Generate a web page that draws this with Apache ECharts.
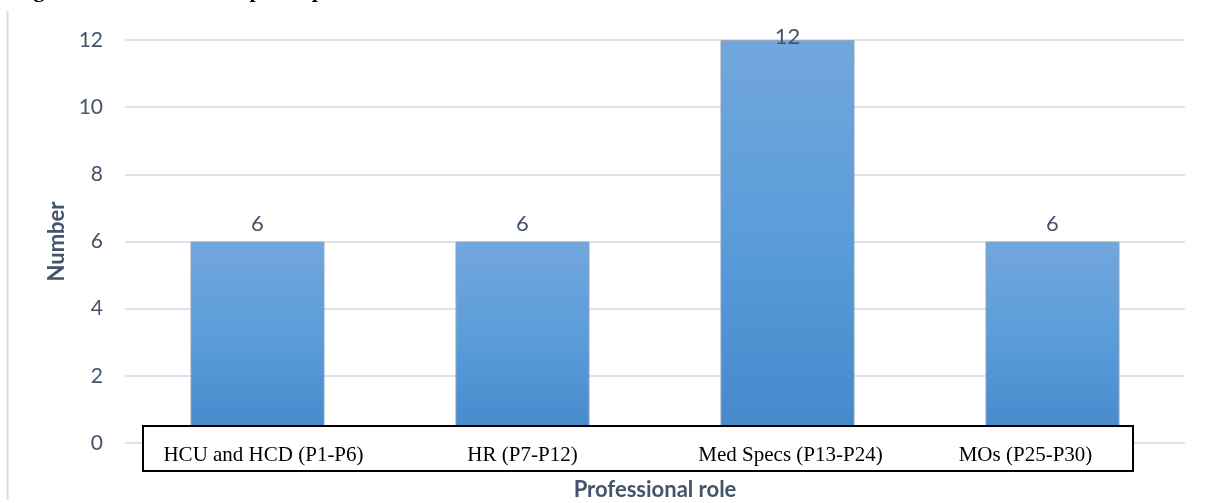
<!DOCTYPE html>
<html>
<head>
<meta charset="utf-8">
<title>Professional role</title>
<script src="https://cdn.jsdelivr.net/npm/echarts@6/dist/echarts.min.js"></script>
<style>
  html, body { margin: 0; padding: 0; background: #ffffff; }
  #chart { width: 1211px; height: 503px; }
</style>
</head>
<body>
<div id="chart"></div>
<script>
// Participants per professional role
const roles = ['HCU and HCD (P1-P6)', 'HR (P7-P12)', 'Med Specs (P13-P24)', 'MOs (P25-P30)'];
const counts = [6, 6, 12, 6];
const yTicks = { min: 0, max: 12, step: 2 };

// horizontal nudge for each category label inside the label box (px)
const labelShift = [6, 0, 3, -27];

const slate = '#44546A';
const chart = echarts.init(document.getElementById('chart'), null, { renderer: 'canvas' });

const categoryData = roles.map((name, i) => {
  const s = labelShift[i];
  return {
    value: name,
    textStyle: { padding: s >= 0 ? [0, 0, 0, 2 * s] : [0, -2 * s, 0, 0] }
  };
});

const barData = counts.map(v => ({
  value: v,
  // the tallest label is held inside the plot area
  label: v === yTicks.max ? { distance: -8 } : undefined
}));

chart.setOption({
  animation: false,
  backgroundColor: '#ffffff',
  grid: { left: 125, right: 26, top: 40, bottom: 60, containLabel: false, outerBoundsMode: 'none' },
  xAxis: {
    type: 'category',
    data: categoryData,
    z: 10,
    axisLine: { show: false },
    axisTick: { show: false },
    axisLabel: {
      margin: 0,
      fontFamily: '"Liberation Serif", "Times New Roman", serif',
      fontSize: 21,
      color: '#000000',
      lineHeight: 25
    },
    name: 'Professional role',
    nameLocation: 'middle',
    nameGap: 36,
    nameTextStyle: { fontFamily: 'Lato, "Open Sans", sans-serif', fontWeight: 'bold', fontSize: 22, color: slate }
  },
  yAxis: {
    type: 'value',
    min: yTicks.min,
    max: yTicks.max,
    interval: yTicks.step,
    axisLine: { show: false },
    axisTick: { show: false },
    splitLine: { lineStyle: { color: '#DCE2EA', width: 2 } },
    axisLabel: { margin: 22, fontFamily: 'Lato, "Open Sans", sans-serif', fontSize: 21, color: slate },
    name: 'Number',
    nameLocation: 'middle',
    nameGap: 49,
    nameRotate: 90,
    nameTextStyle: { fontFamily: 'Lato, "Open Sans", sans-serif', fontWeight: 'bold', fontSize: 22, color: slate }
  },
  series: [{
    type: 'bar',
    data: barData,
    barWidth: '50.6%',
    z: 2,
    itemStyle: {
      color: new echarts.graphic.LinearGradient(0, 0, 0, 1, [
        { offset: 0, color: '#71A7DC' },
        { offset: 0.5, color: '#5A9CDA' },
        { offset: 1, color: '#4488CA' }
      ]),
      borderColor: 'rgba(150,165,185,0.9)',
      borderWidth: 1
    },
    label: {
      show: true,
      position: 'top',
      distance: 7,
      fontFamily: 'Lato, "Open Sans", sans-serif',
      fontSize: 22,
      color: slate
    }
  }],
  graphic: [
    {
      // box framing the category labels
      type: 'rect',
      z: 5,
      shape: { x: 143, y: 426, width: 990, height: 45 },
      style: { fill: '#ffffff', stroke: '#000000', lineWidth: 2 }
    },
    {
      type: 'line',
      z: 1,
      shape: { x1: 7.5, y1: 11, x2: 7.5, y2: 500 },
      style: { stroke: '#DADDE2', lineWidth: 2 }
    },
    {
      type: 'text',
      z: 1,
      left: 14,
      top: -20,
      style: {
        text: 'Figure 1: Distribution of participants\u2019 roles',
        fontFamily: '"Liberation Serif", "Times New Roman", serif',
        fontWeight: 'bold',
        fontSize: 22,
        fill: '#000000'
      }
    }
  ]
});
</script>
</body>
</html>
